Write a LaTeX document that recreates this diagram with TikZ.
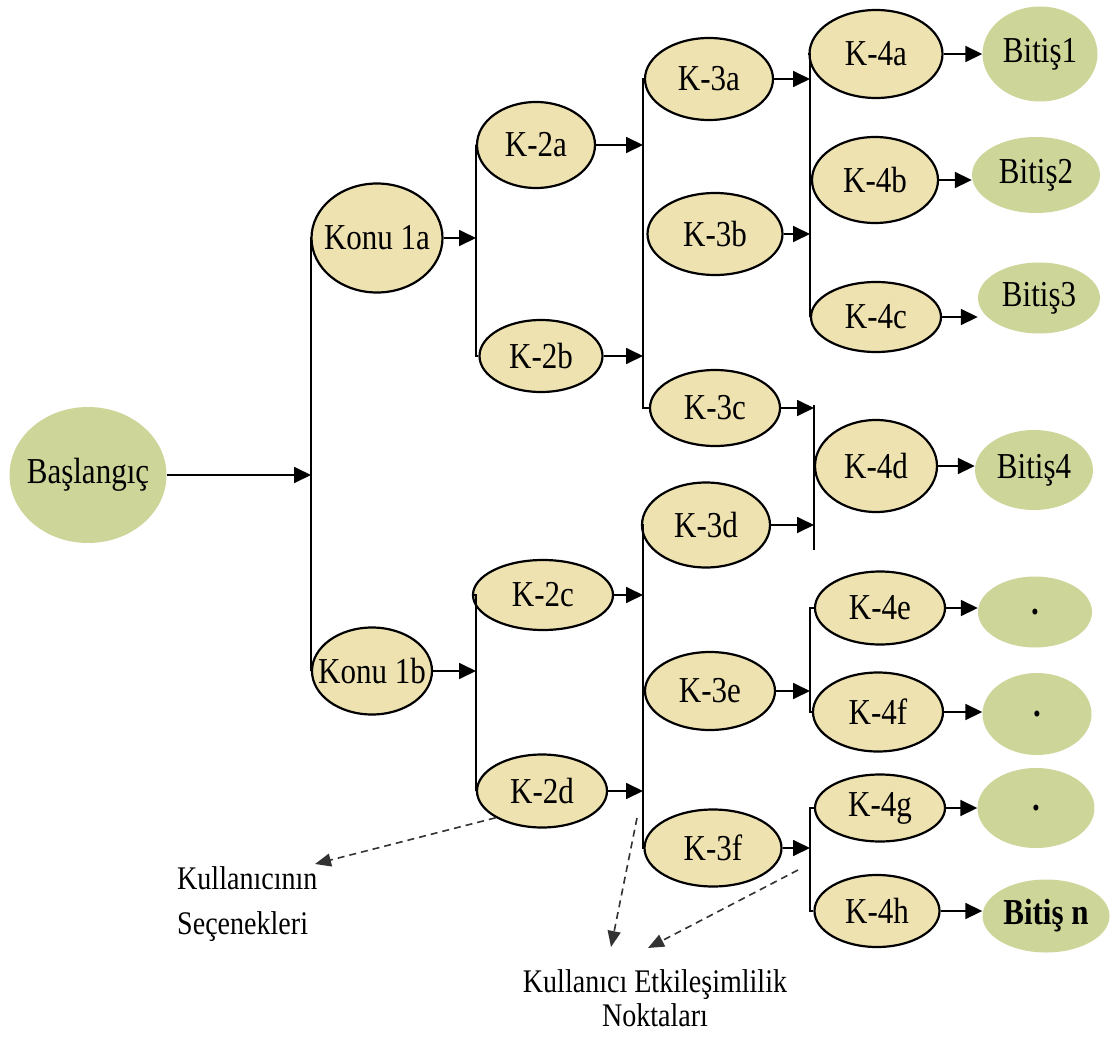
\documentclass[tikz,border=0pt]{standalone}
\usepackage{fontspec}
\setmainfont{Liberation Serif}[FakeStretch=0.85]
\usetikzlibrary{shapes.geometric,arrows.meta}
\definecolor{tan}{RGB}{239,226,177}
\definecolor{sage}{RGB}{205,214,152}

\tikzset{
  % the label is set in a zero-width box so the given sizes fix the ellipse
  ovalbase/.style={ellipse, inner sep=0pt, text=black, font=\fontsize{36.5}{39}\selectfont,
                   execute at begin node={\hbox to 0pt\bgroup\hss},
                   execute at end node={\hss\egroup}},
  kbox/.style 2 args={ovalbase, draw=black, line width=2.2pt, fill=tan,
                      minimum width=#1pt, minimum height=#2pt},
  gbox/.style 2 args={ovalbase, fill=sage, minimum width=#1pt, minimum height=#2pt},
  link/.style={line width=1.8pt, -{Triangle[length=17pt,width=16pt]}},
  rail/.style={line width=1.6pt},
  hint/.style={line width=1.6pt, draw=black!80, dash pattern=on 7pt off 5pt,
               -{Triangle[length=16pt,width=13pt]}},
  note/.style={inner sep=0pt, text=black}
}

\begin{document}
\begin{tikzpicture}[x=1pt,y=-1pt]
  \fill[white] (0,0) rectangle (1112,1041);
  \useasboundingbox (0,0) rectangle (1112,1041);

  % start and first split
  \node[gbox={157}{136}] (start) at (88,475) {Başlangıç};
  \node[kbox={131}{109}] (k1a) at (377,238) {Konu 1a};
  \node[kbox={120}{87}]  (k1b) at (372,671) {Konu 1b};

  % second level
  \node[kbox={118}{86}]  (k2a) at (536,145) {K-2a};
  \node[kbox={123}{72}]  (k2b) at (541,356) {K-2b};
  \node[kbox={140}{70}]  (k2c) at (543,595) {K-2c};
  \node[kbox={130}{73}]  (k2d) at (542,791) {K-2d};

  % third level
  \node[kbox={128}{82}]  (k3a) at (709,79)  {K-3a};
  \node[kbox={135}{82}]  (k3b) at (715,234) {K-3b};
  \node[kbox={130}{76}]  (k3c) at (715,408) {K-3c};
  \node[kbox={128}{85}]  (k3d) at (706,525) {K-3d};
  \node[kbox={130}{78}]  (k3e) at (710,691) {K-3e};
  \node[kbox={137}{77}]  (k3f) at (713,848) {K-3f};

  % fourth level
  \node[kbox={133}{88}]  (k4a) at (876,54)  {K-4a};
  \node[kbox={126}{86}]  (k4b) at (875,180) {K-4b};
  \node[kbox={130}{70}]  (k4c) at (876,317) {K-4c};
  \node[kbox={122}{92}]  (k4d) at (876,466) {K-4d};
  \node[kbox={130}{73}]  (k4e) at (880,608) {K-4e};
  \node[kbox={130}{79}]  (k4f) at (878,712) {K-4f};
  \node[kbox={130}{67}]  (k4g) at (880,808) {K-4g};
  \node[kbox={125}{72}]  (k4h) at (877,911) {K-4h};

  % endings
  \node[gbox={115}{95}]  (b1) at (1040,54)  {Bitiş1};
  \node[gbox={128}{76}]  (b2) at (1036,175) {Bitiş2};
  \node[gbox={122}{71}]  (b3) at (1039,298) {Bitiş3};
  \node[gbox={118}{80}]  (b4) at (1034,470) {Bitiş4};
  \node[gbox={114}{71}]  (d1) at (1035,612) {\bfseries .};
  \node[gbox={109}{82}]  (d2) at (1037,714) {\bfseries .};
  \node[gbox={117}{80}]  (d3) at (1036,808) {\bfseries .};
  \node[gbox={127}{73}]  (bn) at (1046,916) {\bfseries Bitiş n};

  % rail positions
  \coordinate (r1) at (311,0);
  \coordinate (r2) at (476,0);
  \coordinate (r3) at (643,0);
  \coordinate (r4) at (810,0);
  \coordinate (q1) at (814,405);
  \coordinate (q2) at (814,550);

  % rails joining sibling choices
  \draw[rail] (k1a.west) -- (k1a.west -| r1) -- (k1b.west -| r1) -- (k1b.west);
  \draw[rail] (k2a.west) -- (k2a.west -| r2) -- (k2b.west -| r2) -- (k2b.west);
  \draw[rail] (k2c.west) -- (k2c.west -| r2) -- (k2d.west -| r2) -- (k2d.west);
  \draw[rail] (k3a.west) -- (k3a.west -| r3) -- (k3c.west -| r3) -- (k3c.west);
  \draw[rail] (k3d.west) -- (k3d.west -| r3) -- (k3f.west -| r3) -- (k3f.west);
  \draw[rail] (k4a.west) -- (k4a.west -| r4) -- (k4c.west -| r4) -- (k4c.west);
  \draw[rail] (k4e.west) -- (k4e.west -| r4) -- (k4f.west -| r4) -- (k4f.west);
  \draw[rail] (k4g.west) -- (k4g.west -| r4) -- (k4h.west -| r4) -- (k4h.west);
  \draw[rail] (q1) -- (q2);

  % arrows into the rails
  \draw[link] (start.east) -- (start.east -| r1);
  \draw[link] (k1a.east) -- (k1a.east -| r2);
  \draw[link] (k1b.east) -- (k1b.east -| r2);
  \draw[link] (k2a.east) -- (k2a.east -| r3);
  \draw[link] (k2b.east) -- (k2b.east -| r3);
  \draw[link] (k2c.east) -- (k2c.east -| r3);
  \draw[link] (k2d.east) -- (k2d.east -| r3);
  \draw[link] (k3a.east) -- (k3a.east -| r4);
  \draw[link] (k3b.east) -- (k3b.east -| r4);
  \draw[link] (k3c.east) -- (k3c.east -| q1);
  \draw[link] (k3d.east) -- (k3d.east -| q1);
  \draw[link] (k3e.east) -- (k3e.east -| r4);
  \draw[link] (k3f.east) -- (k3f.east -| r4);

  % arrows to the endings
  \draw[link] (k4a.east) -- (k4a.east -| b1.west);
  \draw[link] (k4b.east) -- (k4b.east -| b2.west);
  \draw[link] (k4c.east) -- (k4c.east -| b3.west);
  \draw[link] (k4d.east) -- (k4d.east -| b4.west);
  \draw[link] (k4e.east) -- (k4e.east -| d1.west);
  \draw[link] (k4f.east) -- (k4f.east -| d2.west);
  \draw[link] (k4g.east) -- (k4g.east -| d3.west);
  \draw[link] (k4h.east) -- (k4h.east -| bn.west);

  % explanatory labels
  \node[note, anchor=north west, align=left,
        font=\fontsize{33}{45}\selectfont] (opts) at (177,866)
        {Kullanıcının\\Seçenekleri};
  \node[note, anchor=north, align=center,
        font=\fontsize{33}{34}\selectfont] (points) at (655,969)
        {Kullanıcı Etkileşimlilik\\Noktaları};

  % dashed pointers to the labels
  \coordinate (optsTip) at (315,864);
  \coordinate (hubA) at (637,818);
  \coordinate (tipA) at (611,947);
  \coordinate (hubB) at (798,870);
  \coordinate (tipB) at (648,948);
  \draw[hint] (k2d.210) -- (optsTip);
  \draw[hint] (hubA) -- (tipA);
  \draw[hint] (hubB) -- (tipB);
\end{tikzpicture}
\end{document}
